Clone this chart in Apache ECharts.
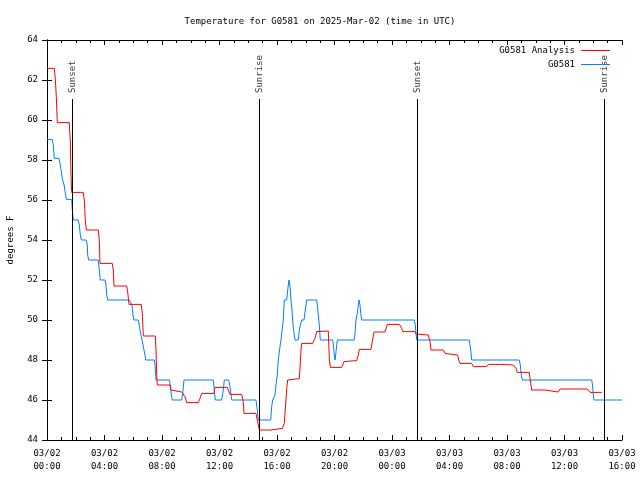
<!DOCTYPE html>
<html>
<head>
<meta charset="utf-8">
<script src="https://cdn.jsdelivr.net/npm/echarts@6/dist/echarts.min.js"></script>
<style>html,body{margin:0;padding:0;background:#fff}#c{width:640px;height:480px}</style>
</head>
<body>
<div id="c"></div>
<script>
// hours since 2025-03-02 00:00 UTC
const analysisHours = [0, 0.508, 0.577, 0.647, 0.717, 1.551, 1.621, 1.670, 1.718, 2.525, 2.595, 2.664, 2.734, 3.569, 3.638, 3.687, 4.543, 4.612, 4.661, 5.544, 5.614, 5.704, 6.560, 6.630, 6.699, 7.534, 7.583, 7.631, 7.673, 8.557, 8.626, 8.717, 9.370, 9.600, 9.718, 10.525, 10.643, 10.762, 11.617, 11.687, 12.543, 12.640, 12.730, 13.544, 13.656, 13.704, 14.539, 14.630, 14.699, 14.769, 15.562, 16.369, 16.508, 16.557, 16.675, 16.744, 17.551, 17.600, 17.670, 17.718, 18.483, 18.643, 18.762, 19.569, 19.638, 19.708, 20.501, 20.661, 20.730, 21.544, 21.656, 21.725, 22.539, 22.630, 22.748, 23.513, 23.631, 23.673, 24.508, 24.675, 24.744, 25.600, 25.670, 25.760, 26.525, 26.643, 26.713, 27.569, 27.687, 27.757, 28.570, 28.640, 28.730, 29.544, 29.656, 30.588, 30.699, 31.562, 32.438, 32.626, 32.717, 33.551, 33.649, 33.718, 34.643, 34.762, 35.569, 35.687, 37.586, 37.774, 38.588];
const analysisTemps = [62.58, 62.58, 62.08, 61.17, 59.87, 59.87, 58.9, 57.25, 56.38, 56.38, 56.0, 55.0, 54.5, 54.5, 54.0, 52.83, 52.83, 52.5, 51.7, 51.7, 51.4, 50.78, 50.78, 50.33, 49.2, 49.2, 48.5, 47.33, 46.75, 46.75, 46.5, 46.4, 46.4, 46.17, 45.87, 45.87, 46.08, 46.33, 46.33, 46.63, 46.63, 46.45, 46.28, 46.28, 45.92, 45.33, 45.33, 45.0, 44.75, 44.5, 44.5, 44.58, 44.83, 45.33, 46.58, 47.0, 47.07, 47.58, 48.5, 48.83, 48.83, 49.08, 49.42, 49.45, 48.08, 47.63, 47.63, 47.92, 47.97, 47.97, 48.25, 48.53, 48.53, 48.92, 49.4, 49.4, 49.67, 49.78, 49.78, 49.58, 49.42, 49.42, 49.3, 49.25, 49.25, 48.92, 48.5, 48.5, 48.33, 48.25, 48.25, 48.0, 47.83, 47.83, 47.67, 47.67, 47.78, 47.78, 47.75, 47.58, 47.38, 47.38, 46.83, 46.5, 46.5, 46.4, 46.4, 46.55, 46.55, 46.38, 46.38];

const stationHours = [0, 0.369, 0.438, 0.508, 0.835, 0.904, 0.974, 1.023, 1.092, 1.203, 1.273, 1.343, 1.718, 1.760, 1.830, 2.177, 2.247, 2.317, 2.386, 2.734, 2.803, 2.831, 2.901, 3.569, 3.638, 3.708, 4.035, 4.104, 4.153, 4.223, 5.725, 5.913, 5.983, 6.052, 6.351, 6.421, 6.470, 6.539, 6.609, 6.748, 6.817, 6.866, 7.464, 7.513, 7.562, 7.583, 8.508, 8.577, 8.647, 8.717, 9.370, 9.440, 9.530, 11.569, 11.638, 11.708, 12.153, 12.264, 12.334, 12.640, 12.730, 12.849, 14.539, 14.630, 14.699, 15.562, 15.631, 15.701, 15.861, 15.930, 16.021, 16.090, 16.209, 16.278, 16.369, 16.438, 16.508, 16.675, 16.744, 16.835, 16.904, 16.974, 17.043, 17.113, 17.203, 17.252, 17.482, 17.551, 17.649, 17.718, 17.878, 17.969, 18.066, 18.762, 18.831, 18.873, 18.943, 19.012, 19.875, 19.917, 19.986, 20.035, 20.083, 20.153, 20.195, 21.377, 21.426, 21.496, 21.586, 21.656, 21.704, 21.774, 21.823, 21.892, 25.551, 25.621, 25.670, 25.718, 29.377, 29.475, 29.544, 32.856, 32.925, 32.995, 33.064, 37.892, 37.948, 38.003, 38.052, 40];
const stationTemps = [59.03, 59.03, 58.75, 58.08, 58.08, 57.83, 57.53, 57.25, 57.0, 56.7, 56.33, 56.03, 56.03, 55.5, 55.0, 55.0, 54.75, 54.25, 54.0, 54.0, 53.75, 53.25, 53.0, 53.0, 52.5, 52.0, 52.0, 51.75, 51.25, 51.0, 51.0, 50.75, 50.25, 50.0, 50.0, 49.75, 49.5, 49.25, 49.0, 49.0, 48.25, 48.0, 48.0, 47.75, 47.25, 47.0, 47.0, 46.75, 46.25, 46.0, 46.0, 46.33, 47.0, 47.0, 46.5, 46.0, 46.0, 46.5, 47.0, 47.0, 46.67, 46.0, 46.0, 45.5, 45.0, 45.0, 45.67, 46.0, 46.25, 46.75, 47.25, 48.0, 48.67, 49.0, 49.0, 50.0, 51.0, 51.0, 51.5, 52.0, 51.67, 51.0, 50.5, 49.75, 49.25, 49.0, 49.0, 49.5, 49.83, 50.0, 50.0, 50.5, 51.0, 51.0, 50.58, 50.25, 49.75, 49.0, 49.0, 48.75, 48.25, 48.0, 48.25, 48.75, 49.0, 49.0, 49.33, 50.0, 50.33, 50.75, 51.0, 50.75, 50.33, 50.0, 50.0, 49.75, 49.33, 49.0, 49.0, 48.5, 48.0, 48.0, 47.75, 47.25, 47.0, 47.0, 46.75, 46.25, 46.0, 46.0];

const sunHours = [1.75, 14.77, 25.76, 38.77];
const sunLabels = ['Sunset', 'Sunrise', 'Sunset', 'Sunrise'];
const sunLineTop = 61.05;
const sunLabelBase = 61.35;

const titleText = 'Temperature for G0581 on 2025-Mar-02 (time in UTC)';
const seriesNames = ['G0581 Analysis', 'G0581'];
const yName = 'degrees F';

const FONT = 'DejaVu Sans Mono';
const pad = n => (n < 10 ? '0' : '') + n;
const fmtX = v => {
  const day = v >= 24 ? '03/03' : '03/02';
  const h = Math.round(v) % 24;
  return day + '\n' + pad(h) + ':00';
};

const analysisData = analysisHours.map((t, i) => [t, analysisTemps[i]]);
const stationData = stationHours.map((t, i) => [t, stationTemps[i]]);
const sunLineData = sunHours.map(t => [{ coord: [t, 44] }, { coord: [t, sunLineTop] }]);
const sunLabelData = sunHours.map((t, i) => [t, sunLabelBase, sunLabels[i]]);

const axisCommon = {
  axisLine: { show: true, lineStyle: { color: '#000', width: 1 } },
  splitLine: { show: false },
  axisTick: { show: true, inside: true, length: 5, lineStyle: { color: '#000' } },
};

const chart = echarts.init(document.getElementById('c'), null, { renderer: 'canvas' });
chart.setOption({
  animation: false,
  backgroundColor: '#fff',
  textStyle: { fontFamily: FONT, fontSize: 9, color: '#000' },
  title: {
    text: titleText, left: 'center', top: 12,
    textStyle: { fontFamily: FONT, fontSize: 9, fontWeight: 'normal', color: '#000' }
  },
  legend: {
    data: seriesNames,
    orient: 'vertical', right: 25, top: 40, align: 'right',
    icon: 'rect', itemWidth: 29, itemHeight: 1, itemGap: 3,
    textStyle: { fontFamily: FONT, fontSize: 9, color: '#000', lineHeight: 11, padding: [0, 1, 0, 0] }
  },
  grid: { left: 47, right: 18, top: 40, bottom: 40, containLabel: false, outerBoundsMode: 'none' },
  xAxis: [
    Object.assign({}, axisCommon, {
      type: 'value', min: 0, max: 40, interval: 4, position: 'bottom',
      minorTick: { show: true, splitNumber: 4, length: 3, lineStyle: { color: '#000' } },
      axisLabel: { formatter: fmtX, fontFamily: FONT, fontSize: 9, color: '#000', lineHeight: 13, margin: 7 }
    }),
    Object.assign({}, axisCommon, {
      type: 'value', min: 0, max: 40, interval: 4, position: 'top',
      minorTick: { show: true, splitNumber: 4, length: 3, lineStyle: { color: '#000' } },
      axisLabel: { show: false }
    })
  ],
  yAxis: [
    Object.assign({}, axisCommon, {
      type: 'value', min: 44, max: 64, interval: 2, position: 'left',
      name: yName, nameLocation: 'middle', nameGap: 32, nameRotate: 90,
      nameTextStyle: { fontFamily: FONT, fontSize: 9, color: '#000' },
      axisLabel: { fontFamily: FONT, fontSize: 9, color: '#000', margin: 9 }
    }),
    Object.assign({}, axisCommon, {
      type: 'value', min: 44, max: 64, interval: 2, position: 'right',
      axisLabel: { show: false }
    })
  ],
  series: [
    {
      name: seriesNames[0], type: 'line', data: analysisData, symbol: 'none',
      xAxisIndex: 0, yAxisIndex: 0,
      lineStyle: { color: '#ff0000', width: 1 }, itemStyle: { color: '#ff0000' },
      z: 3,
      markLine: {
        silent: true, symbol: ['none', 'none'],
        lineStyle: { color: '#000', width: 1, type: 'solid' },
        label: { show: false },
        data: sunLineData
      }
    },
    {
      name: seriesNames[1], type: 'line', data: stationData, symbol: 'none',
      xAxisIndex: 0, yAxisIndex: 0,
      lineStyle: { color: '#0080ff', width: 1 }, itemStyle: { color: '#0080ff' },
      z: 2
    },
    {
      name: 'sun', type: 'scatter', data: sunLabelData, symbolSize: 1,
      xAxisIndex: 0, yAxisIndex: 0, silent: true,
      itemStyle: { color: 'rgba(0,0,0,0)' },
      label: {
        show: true, position: 'inside', rotate: 90, align: 'left', verticalAlign: 'middle',
        formatter: p => p.data[2], fontFamily: FONT, fontSize: 9, color: '#000'
      }
    }
  ]
});
</script>
</body>
</html>
